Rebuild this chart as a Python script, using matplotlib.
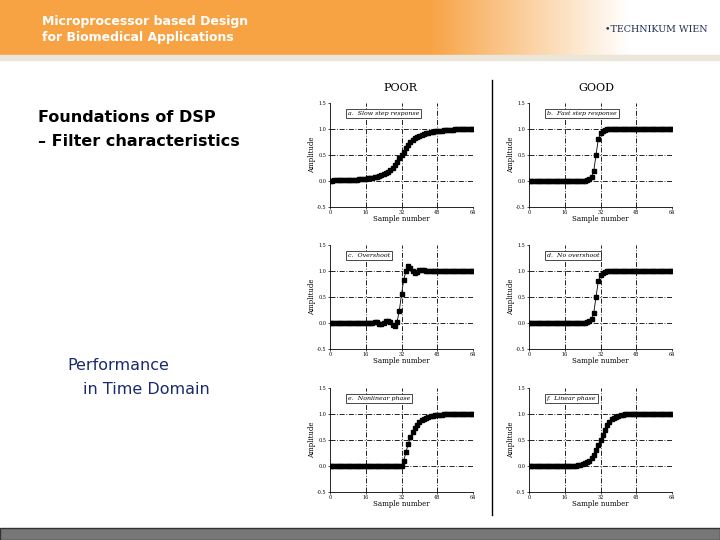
import matplotlib
matplotlib.use("Agg")
import matplotlib.pyplot as plt
import numpy as np
from matplotlib.patches import Rectangle

W, H = 720, 540
slow = [0.00,0.00,0.01,0.01,0.01,0.01,0.01,0.01,0.01,0.02,
        0.02,0.02,0.02,0.03,0.03,0.04,0.04,0.05,0.05,0.06,
        0.07,0.08,0.09,0.11,0.13,0.15,0.18,0.21,0.25,0.30,
        0.37,0.44,0.50,0.56,0.63,0.70,0.75,0.79,0.82,0.85,
        0.87,0.89,0.91,0.92,0.93,0.94,0.95,0.96,0.96,0.97,
        0.97,0.98,0.98,0.99,0.99,0.99,1.00,1.00,1.00,1.00,
        1.00,1.00,1.00,1.00,1.00]
fast = [0.0]*26 + [0.01,0.03,0.08,0.20,0.50,0.80,0.92,0.97,0.99] + [1.0]*30
overshoot = [0.0]*20 + [0.01,0.02,-0.01,-0.02,0.00,0.03,0.04,0.02,-0.04,-0.06,
             0.02,0.23,0.55,0.83,1.00,1.09,1.05,1.00,0.96,0.98,
             1.01,1.02,1.01] + [1.0]*22
no_overshoot = [0.0]*26 + [0.01,0.03,0.08,0.20,0.50,0.80,0.92,0.97,0.99] + [1.0]*30
nonlinear = [0.0]*33 + [0.10,0.27,0.42,0.55,0.65,0.73,0.79,0.84,0.88,0.91,
             0.93,0.95,0.96,0.97,0.98,0.985,0.99,0.99] + [1.0]*14
linear = [0.0]*22 + [0.01,0.02,0.03,0.05,0.07,0.10,0.15,0.22,0.30,0.40,
          0.50,0.60,0.70,0.78,0.85,0.90,0.93,0.95,0.97,0.98,0.99] + [1.0]*22
panels = [("a.  Slow step response", slow), ("b.  Fast step response", fast),
          ("c.  Overshoot", overshoot), ("d.  No overshoot", no_overshoot),
          ("e.  Nonlinear phase", nonlinear), ("f.  Linear phase", linear)]
xticks = [0, 16, 32, 48, 64]
yticks = [-0.5, 0.0, 0.5, 1.0, 1.5]

fig = plt.figure(figsize=(7.2, 5.4), dpi=100)
bg = fig.add_axes([0, 0, 1, 1]); bg.set_xlim(0, W); bg.set_ylim(H, 0); bg.axis("off")
grad = np.ones((1, 256, 3))
t = np.linspace(0, 1, 256)
o = np.array([0.97, 0.64, 0.27])
for i, tt in enumerate(t):
    f = np.clip((tt*W - 430) / 200, 0, 1)
    grad[0, i] = o*(1-f) + np.array([1, 1, 1])*f
bg.imshow(grad, extent=[0, W, 55, 0], aspect="auto")
bg.add_patch(Rectangle((0, 55), W, 5, color="#ece6da"))
bg.add_patch(Rectangle((0, 528), W, 12, facecolor="#777777", edgecolor="#333333"))
bg.set_xlim(0, W); bg.set_ylim(H, 0)
bg.text(42, 22, "Microprocessor based Design", color="white", fontsize=9, fontweight="bold", va="center")
bg.text(42, 37, "for Biomedical Applications", color="white", fontsize=9, fontweight="bold", va="center")
bg.text(605, 30, "•TECHNIKUM WIEN", color="#223355", fontsize=6.8, family="DejaVu Serif", va="center")
bg.text(38, 117, "Foundations of DSP", fontsize=11.5, fontweight="bold", va="center")
bg.text(38, 141, "– Filter characteristics", fontsize=11.5, fontweight="bold", va="center")
bg.text(67, 365, "Performance", fontsize=11.5, color="#1a2a6c", va="center")
bg.text(83, 389, "in Time Domain", fontsize=11.5, color="#1a2a6c", va="center")
bg.plot([492, 492], [80, 515], color="black", lw=1)
bg.text(400, 88, "POOR", family="DejaVu Serif", fontsize=8, ha="center", va="center")
bg.text(596, 88, "GOOD", family="DejaVu Serif", fontsize=8, ha="center", va="center")

lefts = [330, 529]
tops = [103, 245, 388]
for k, (lab, vals) in enumerate(panels):
    r, c = divmod(k, 2)
    x0, y0 = lefts[c], tops[r]
    ax = fig.add_axes([x0/W, 1-(y0+104)/H, 143/W, 104/H])
    ax.plot(np.arange(len(vals)), vals, color="black", lw=0.6, marker="s", ms=2.3)
    ax.set_xlim(0, 64); ax.set_ylim(-0.5, 1.5)
    ax.set_xticks(xticks); ax.set_yticks(yticks)
    ax.set_xticklabels(xticks, fontsize=3.5, family="DejaVu Serif")
    ax.set_yticklabels([f"{v:.1f}" for v in yticks], fontsize=3.5, family="DejaVu Serif")
    ax.tick_params(length=1.5, pad=1, width=0.5)
    for x in [16, 32, 48]:
        ax.axvline(x, color="black", ls=(0, (6, 2, 1, 2)), lw=0.6)
    for y in [0.0, 0.5, 1.0]:
        ax.axhline(y, color="black", ls=(0, (6, 2, 1, 2)), lw=0.6)
    ax.set_xlabel("Sample number", fontsize=5, family="DejaVu Serif", labelpad=0)
    ax.set_ylabel("Amplitude", fontsize=5, family="DejaVu Serif", labelpad=1)
    for s in ["top", "right"]:
        ax.spines[s].set_visible(False)
    for s in ax.spines.values():
        s.set_linewidth(0.6)
    ax.text(8, 1.3, lab, fontsize=4.5, family="DejaVu Serif", style="italic", va="center",
            bbox=dict(boxstyle="square,pad=0.3", fc="white", ec="black", lw=0.5))

fig.savefig("out.png", dpi=100)
